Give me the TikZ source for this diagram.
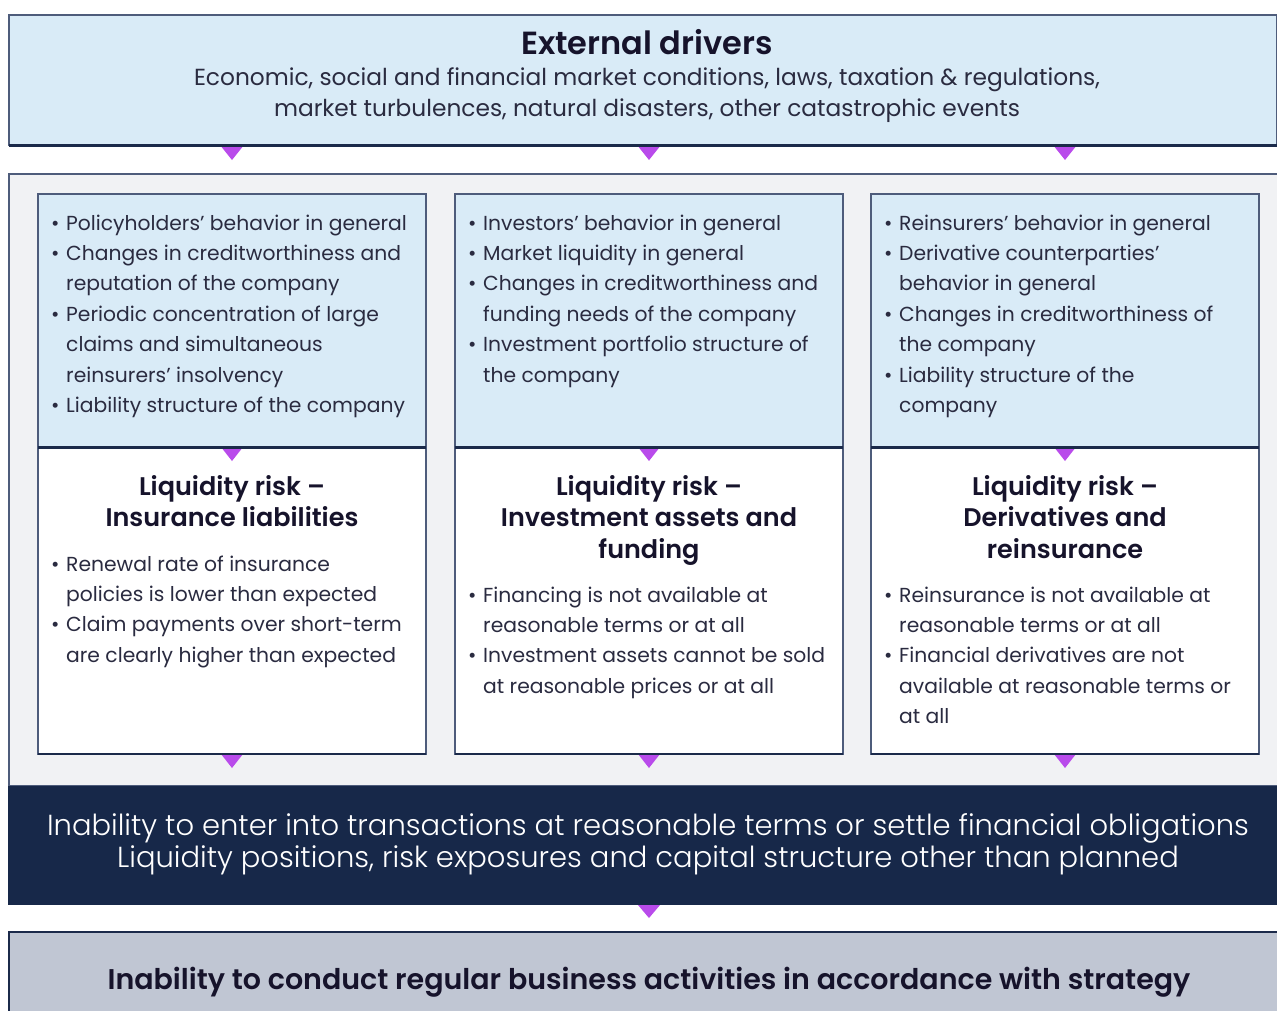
\documentclass[tikz,border=0pt]{standalone}
\usepackage{fontspec}
\setmainfont{Poppins}[BoldFont={Poppins SemiBold}]
\newfontfamily\lightfont{Poppins Light}
\usetikzlibrary{calc}
\definecolor{lblue}{HTML}{D9EBF7}
\definecolor{pgray}{HTML}{F1F2F4}
\definecolor{edge}{HTML}{4E5C7B}
\definecolor{navy}{HTML}{172849}
\definecolor{dnavy}{HTML}{1B2A4A}
\definecolor{bgray}{HTML}{C0C6D3}
\definecolor{purp}{HTML}{B94BEB}
\definecolor{txt}{HTML}{2A2B40}
\definecolor{ttl}{HTML}{16132B}
\newcommand\bu[1]{\makebox[15pt][l]{\textbullet}#1}
\newcommand\co[1]{\hspace*{15pt}#1}
\newcommand\downtri[3]{\fill[tri] #1 ++(-#2,0) -- ++(2*#2,0) -- ++(-#2,#3) -- cycle;}
\tikzset{
  panelbox/.style={rectangle, inner sep=0pt, outer sep=0pt, anchor=north west},
  extbox/.style={panelbox, fill=lblue, draw=edge, line width=1.2pt, minimum width=1268pt, minimum height=130pt},
  graybox/.style={panelbox, fill=pgray, draw=edge, line width=1.2pt, minimum width=1270pt, minimum height=612pt},
  colbox/.style={panelbox, fill=lblue, draw=edge, line width=1.2pt, minimum width=388pt, minimum height=253pt},
  whitebox/.style={panelbox, fill=white, draw=edge, line width=1.2pt, minimum width=388pt, minimum height=307pt},
  navybox/.style={panelbox, fill=navy, minimum width=1270pt, minimum height=119pt},
  bottombox/.style={panelbox, fill=bgray, draw=dnavy, line width=1.2pt, minimum width=1270pt, minimum height=90pt},
  sepline/.style={draw=dnavy, line width=3pt},
  tri/.style={fill=purp},
  listtxt/.style={anchor=base west, inner sep=0pt, text=txt, font=\fontsize{20.3}{30.4}\selectfont},
  hd/.style={anchor=base, inner sep=0pt, text=ttl, font=\bfseries\fontsize{25.5}{31.5}\selectfont},
}
\begin{document}
\begin{tikzpicture}[x=1pt,y=-1pt]
\useasboundingbox (0,0) rectangle (1277,1010);
% boxes
\node[extbox] (ext) at (9,15) {};
\node[graybox] (panel) at (9,174) {};
\node[colbox] (c1a) at (38,194) {};
\node[colbox] (c2a) at (455,194) {};
\node[colbox] (c3a) at (871,194) {};
\node[whitebox] (c1b) at (38,447) {};
\node[whitebox] (c2b) at (455,447) {};
\node[whitebox] (c3b) at (871,447) {};
\node[navybox] (nav) at (8,786) {};
\node[bottombox] (bot) at (9,932) {};
% triangles
\downtri{(ext.south -| c1a.north)}{12}{15}
\downtri{(ext.south -| c2a.north)}{12}{15}
\downtri{(ext.south -| c3a.north)}{12}{15}
\downtri{(c1a.south)}{11}{14}
\downtri{(c2a.south)}{11}{14}
\downtri{(c3a.south)}{11}{14}
\downtri{(c1b.south)}{11}{14}
\downtri{(c2b.south)}{11}{14}
\downtri{(c3b.south)}{11}{14}
\downtri{(nav.south -| c2b.south)}{11}{13}
% thick separators
\draw[sepline] (ext.south west) -- (ext.south east);
\draw[sepline] (c1a.south west) -- (c1a.south east);
\draw[sepline] (c2a.south west) -- (c2a.south east);
\draw[sepline] (c3a.south west) -- (c3a.south east);
\draw[dnavy, line width=2pt] (c1b.south west) -- (c1b.south east);
\draw[dnavy, line width=2pt] (c2b.south west) -- (c2b.south east);
\draw[dnavy, line width=2pt] (c3b.south west) -- (c3b.south east);
\draw[dnavy, line width=2pt] (bot.north west) -- (bot.north east);
% top texts
\node[anchor=base, inner sep=0pt, text=ttl, font=\bfseries\fontsize{32}{32}\selectfont] (exttitle) at (647,54) {External drivers};
\node[anchor=base, inner sep=0pt, text=txt, font=\fontsize{23.3}{31.7}\selectfont] (extsub) at (647,85)
  {\parbox[t]{1200pt}{\centering Economic, social and financial market conditions, laws, taxation \& regulations,\\ market turbulences, natural disasters, other catastrophic events}};
% column top lists
\node[listtxt] (l1) at (51,230) {\parbox[t]{375pt}{\raggedright
  \bu{Policyholders’ behavior in general}\\
  \bu{Changes in creditworthiness and}\\
  \co{reputation of the company}\\
  \bu{Periodic concentration of large}\\
  \co{claims and simultaneous}\\
  \co{reinsurers’ insolvency}\\
  \bu{Liability structure of the company}}};
\node[listtxt] (l2) at (468,230) {\parbox[t]{375pt}{\raggedright
  \bu{Investors’ behavior in general}\\
  \bu{Market liquidity in general}\\
  \bu{Changes in creditworthiness and}\\
  \co{funding needs of the company}\\
  \bu{Investment portfolio structure of}\\
  \co{the company}}};
\node[listtxt] (l3) at (884,230) {\parbox[t]{375pt}{\raggedright
  \bu{Reinsurers’ behavior in general}\\
  \bu{Derivative counterparties’}\\
  \co{behavior in general}\\
  \bu{Changes in creditworthiness of}\\
  \co{the company}\\
  \bu{Liability structure of the}\\
  \co{company}}};
% headings
\node[hd] (h1) at (232,495) {\parbox[t]{380pt}{\centering Liquidity risk –\\ Insurance liabilities}};
\node[hd] (h2) at (649,495) {\parbox[t]{380pt}{\centering Liquidity risk –\\ Investment assets and\\ funding}};
\node[hd] (h3) at (1065,495) {\parbox[t]{380pt}{\centering Liquidity risk –\\ Derivatives and\\ reinsurance}};
% white lists
\node[listtxt] (w1) at (51,571) {\parbox[t]{375pt}{\raggedright
  \bu{Renewal rate of insurance}\\
  \co{policies is lower than expected}\\
  \bu{Claim payments over short-term}\\
  \co{are clearly higher than expected}}};
\node[listtxt] (w2) at (468,602) {\parbox[t]{375pt}{\raggedright
  \bu{Financing is not available at}\\
  \co{reasonable terms or at all}\\
  \bu{Investment assets cannot be sold}\\
  \co{at reasonable prices or at all}}};
\node[listtxt] (w3) at (884,602) {\parbox[t]{375pt}{\raggedright
  \bu{Reinsurance is not available at}\\
  \co{reasonable terms or at all}\\
  \bu{Financial derivatives are not}\\
  \co{available at reasonable terms or}\\
  \co{at all}}};
% navy text
\node[anchor=base, inner sep=0pt, text=white, font=\lightfont\fontsize{29}{32}\selectfont] (navtxt) at (648,835)
  {\parbox[t]{1270pt}{\centering Inability to enter into transactions at reasonable terms or settle financial obligations\\ Liquidity positions, risk exposures and capital structure other than planned}};
% bottom text
\node[anchor=base, inner sep=0pt, text=ttl, font=\bfseries\fontsize{28.5}{32}\selectfont] (bottxt) at (649,989) {Inability to conduct regular business activities in accordance with strategy};
\end{tikzpicture}
\end{document}
